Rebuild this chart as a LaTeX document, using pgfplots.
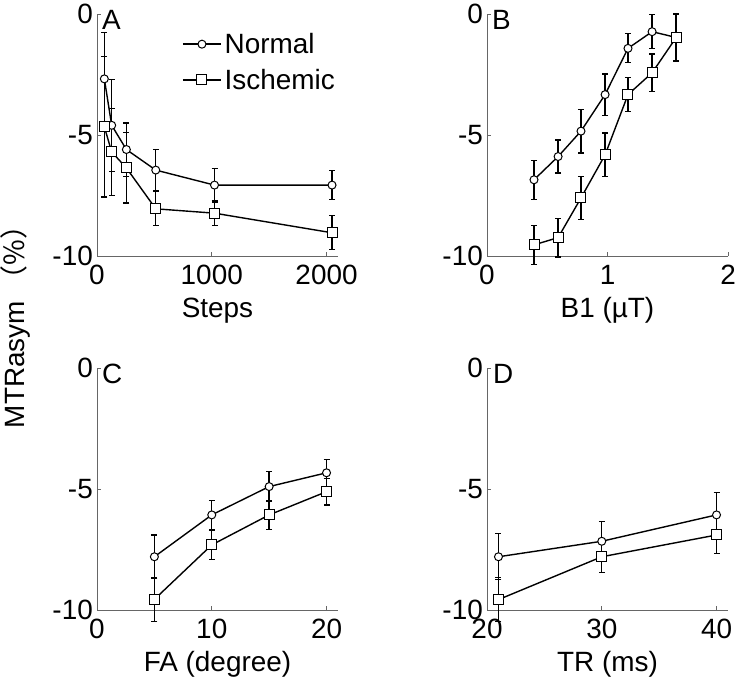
\documentclass[border=0pt]{standalone}
\usepackage{fontspec}
\setmainfont{Liberation Sans}
\newfontfamily\cjk{Noto Sans CJK SC}
\usepackage{pgfplots}
\pgfplotsset{compat=1.18}

\pgfplotsset{
  panel/.style={
    width=241bp, height=242bp, scale only axis, clip=false,
    axis x line*=bottom, axis y line*=left,
    axis line style={-, black!60, line width=1bp},
    tick style={black!60, line width=1bp},
    tick align=inside, major tick length=4bp,
    ymin=-10, ymax=0, ytick={-10,-5,0}, yticklabels={-10,-5,0},
    font=\fontsize{28}{32}\selectfont,
    yticklabel style={anchor=east, inner sep=0pt, xshift=-4bp},
    xticklabel style={anchor=north, inner sep=0pt, yshift=-9bp},
    xlabel style={at={(axis description cs:0.5,0)}, anchor=base, inner sep=0pt, yshift=-61bp},
  },
  sern/.style={black, line width=1.4bp, mark=*, mark size=4bp, mark options={fill=white, line width=1bp},
    error bars/.cd, y dir=both, y explicit, error bar style={line width=1.4bp, black},
    error mark options={rotate=90, mark size=3bp, line width=1.2bp, black}},
  seri/.style={black, line width=1.4bp, mark=square*, mark size=5bp, mark options={fill=white, line width=1bp},
    error bars/.cd, y dir=both, y explicit, error bar style={line width=1.4bp, black},
    error mark options={rotate=90, mark size=3bp, line width=1.2bp, black}},
}

\begin{document}
\begin{tikzpicture}[font=\fontsize{28}{32}\selectfont]
\path[use as bounding box] (0,0) rectangle (737bp,-678bp);

% Panel A
\begin{axis}[panel, at={(97bp,-256bp)}, anchor=south west,
  xmin=0, xmax=2100, xtick={0,1000,2000}, xticklabels={0,1000,2000},
  xlabel={Steps},
  legend style={draw=none, fill=none, at={(axis description cs:0.353,0.921)}, anchor=north west,
    inner sep=0pt, row sep=14bp, column sep=3bp, nodes={inner sep=0pt, anchor=west},
    font=\fontsize{28}{32}\selectfont},
  legend image code/.code={\draw[mark repeat=2,mark phase=2,#1] plot coordinates {(0bp,0bp)(19bp,0bp)(38bp,0bp)};},
  legend cell align=left]
\addplot[sern] table[x=x, y=y, y error=e] {
x y e
64 -2.68 1.9
128 -4.6 1.9
256 -5.6 1.1
512 -6.45 0.85
1024 -7.07 0.7
2048 -7.07 0.6
};
\addlegendentry{Normal}
\addplot[seri] table[x=x, y=y, y error=e] {
x y e
64 -4.66 2.9
128 -5.7 1.8
256 -6.36 1.45
512 -8.05 0.7
1024 -8.23 0.5
2048 -9.04 0.7
};
\addlegendentry{Ischemic}
\node[anchor=north west, inner sep=0pt, xshift=5bp, yshift=4bp] at (rel axis cs:0,1) {A};
\end{axis}

% Panel B
\begin{axis}[panel, at={(487bp,-256bp)}, anchor=south west,
  xmin=0, xmax=2, xtick={0,1,2}, xticklabels={0,1,2},
  xlabel={B1 (µT)}]
\addplot[sern] table[x=x, y=y, y error=e] {
x y e
0.39 -6.85 0.8
0.59 -5.89 0.68
0.78 -4.84 0.9
0.98 -3.33 0.85
1.17 -1.42 0.6
1.37 -0.73 0.7
1.57 -0.97 1.0
};
\addplot[seri] table[x=x, y=y, y error=e] {
x y e
0.39 -9.54 0.8
0.59 -9.24 0.8
0.78 -7.6 0.9
0.98 -5.82 0.9
1.17 -3.33 0.7
1.37 -2.43 0.78
1.57 -0.97 0.95
};
\node[anchor=north west, inner sep=0pt, xshift=5bp, yshift=4bp] at (rel axis cs:0,1) {B};
\end{axis}

% Panel C
\begin{axis}[panel, at={(97bp,-610bp)}, anchor=south west,
  xmin=0, xmax=21, xtick={0,10,20}, xticklabels={0,10,20},
  xlabel={FA (degree)}]
\addplot[sern] table[x=x, y=y, y error=e] {
x y e
5 -7.8 0.9
10 -6.07 0.6
15 -4.9 0.62
20 -4.33 0.55
};
\addplot[seri] table[x=x, y=y, y error=e] {
x y e
5 -9.56 0.9
10 -7.31 0.6
15 -6.07 0.6
20 -5.11 0.55
};
\node[anchor=north west, inner sep=0pt, xshift=5bp, yshift=4bp] at (rel axis cs:0,1) {C};
\end{axis}

% Panel D
\begin{axis}[panel, at={(487bp,-610bp)}, anchor=south west,
  xmin=20, xmax=41, xtick={20,30,40}, xticklabels={20,30,40},
  xlabel={TR (ms)}]
\addplot[sern] table[x=x, y=y, y error=e] {
x y e
21 -7.8 0.95
30 -7.16 0.82
40 -6.07 0.92
};
\addplot[seri] table[x=x, y=y, y error=e] {
x y e
21 -9.57 0.9
30 -7.8 0.66
40 -6.9 0.75
};
\node[anchor=north west, inner sep=0pt, xshift=6bp, yshift=4bp] at (rel axis cs:0,1) {D};
\end{axis}

\node[rotate=90] at (15bp,-320bp) {MTRasym \cjk{（}\%\cjk{）}};
\end{tikzpicture}
\end{document}
